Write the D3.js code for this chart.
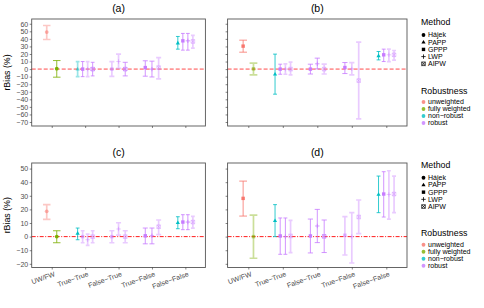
<!DOCTYPE html>
<html>
<head>
<meta charset="utf-8">
<script src="https://cdn.jsdelivr.net/npm/d3@7"></script>
<style>
  body { margin: 0; background: #fff; }
  svg { display: block; font-family: "Liberation Sans", Arial, sans-serif; }
</style>
</head>
<body>
<svg id="chart" width="484" height="308"></svg>
<script>
// categories
const groups = ["UW/FW", "True\u2212True", "False\u2212True", "True\u2212False", "False\u2212False"];
const methods = ["Hájek", "PAPP", "GPPP", "LWP", "AIPW"];
const robustness = ["unweighted", "fully weighted", "non\u2212robust", "robust"];
const robustColor = ["#F8766D", "#7CAE00", "#00BFC4", "#C77CFF"];

// one row per estimate, shared by all four panels
const itemGroup = [0, 0, 1, 1, 1, 1, 2, 2, 2, 3, 3, 3, 4, 4, 4, 4];
const itemRobust = [0, 1, 2, 3, 3, 3, 3, 3, 3, 3, 3, 3, 2, 3, 3, 3];
const itemMethodAC = [0, 0, 1, 2, 3, 4, 2, 3, 4, 2, 3, 4, 1, 2, 3, 4];
const itemMethodBD = [2, 2, 1, 2, 3, 4, 2, 3, 4, 2, 3, 4, 1, 2, 3, 4];

// panel (a)
const estA  = [49, 0.5, 0, 0, 0, 0, 0, 10, 0, 2, 0, 2, 34.4, 37.4, 37.4, 36.6];
const lowA  = [39.2, -10.7, -9.9, -10, -10, -9, -9.6, 1, -9, -9.4, -10.4, -13, 26.4, 25.1, 25.1, 27.7];
const highA = [57.7, 11.3, 10, 10, 10, 9, 10, 19.8, 9, 11, 10.5, 15.3, 43.2, 47.2, 47.2, 44.5];
const boldA = [0, 1, 0, 1, 0, 1, 0, 0, 1, 1, 1, 0, 1, 1, 1, 0];

// panel (b)
const estB  = [30.4, 0.3, -6.8, 0, 0, 0, 0, 7, 0, 2.1, 0.3, -15.2, 17.5, 18.9, 18.9, 18.9];
const lowB  = [22.4, -7.7, -33.2, -6.8, -6.8, -7.7, -6.5, 0.3, -6.5, -5.9, -7.7, -66, 12.2, 10, 10, 11.8];
const highB = [38.3, 7.8, 19.8, 6.5, 6.8, 9.2, 6.5, 14.5, 6.5, 8.7, 8.7, 35.7, 23.3, 26.4, 26.4, 24.6];
const boldB = [1, 0, 1, 1, 0, 0, 1, 1, 0, 1, 0, 0, 1, 1, 0, 0];

// panel (c)
const estC  = [18.6, 0, 2.4, 0, -2.3, 0, 0, 5.6, 0, 0.6, 0.6, 7.3, 10.2, 10.7, 10.7, 10.7];
const lowC  = [12.7, -4.5, -2.3, -4.5, -6.5, -4.5, -4.5, 1.1, -4.5, -5.3, -5.3, 1.4, 5.8, 5.1, 5.1, 6.3];
const highC = [23.5, 4.3, 6.3, 4.3, 1.9, 4.3, 4.3, 10.2, 4.3, 6.3, 6.3, 12.2, 14.6, 16.1, 16.1, 14.9];
const boldC = [0, 1, 1, 0, 0, 0, 0, 0, 0, 1, 1, 0, 1, 1, 1, 0];

// panel (d)
const estD  = [28.1, 0, 11.7, 0.5, 0, 0.5, 0.5, 7.8, 0.2, 1, 0, 14.4, 31, 31.3, 31, 31.3];
const lowD  = [15.1, -15.9, 0, -13, -13, -11.7, -12, -4.4, -11.7, -13.5, -19.4, 2.2, 17.6, 14.4, 12.9, 17.6];
const highD = [40.8, 15.8, 23.5, 13.7, 13.7, 12, 12.9, 20, 12.2, 14.7, 17.6, 26.9, 44.5, 47.7, 48.4, 44.5];
const boldD = [1, 0, 1, 1, 1, 0, 1, 1, 1, 0, 0, 0, 1, 1, 0, 0];

// y axis ticks per row
const ticksTop = d3.range(-70, 61, 10);
const ticksBottom = d3.range(-20, 51, 10);

const panels = [
  { title: "(a)", col: 0, row: 0, est: estA, low: lowA, high: highA, bold: boldA, method: itemMethodAC },
  { title: "(b)", col: 1, row: 0, est: estB, low: lowB, high: highB, bold: boldB, method: itemMethodBD },
  { title: "(c)", col: 0, row: 1, est: estC, low: lowC, high: highC, bold: boldC, method: itemMethodAC },
  { title: "(d)", col: 1, row: 1, est: estD, low: lowD, high: highD, bold: boldD, method: itemMethodBD }
];

const colX = [[31.7, 205.4], [227.6, 407]];
const rowY = [[19, 126], [163, 267.5]];
const rowDomain = [[-75.3, 66.3], [-22.7, 54.1]];
const rowTicks = [ticksTop, ticksBottom];

const svg = d3.select("#chart");
const minus = s => String(s).replace("-", "\u2212");

function drawShape(g, m, x, y, color, op) {
  if (m === 0) {
    g.append("circle").attr("cx", x).attr("cy", y).attr("r", 1.9).attr("fill", color).attr("opacity", op);
  } else if (m === 1) {
    g.append("path").attr("d", `M${x},${y - 2.3}L${x + 2.1},${y + 1.3}L${x - 2.1},${y + 1.3}Z`)
      .attr("fill", color).attr("opacity", op);
  } else if (m === 2) {
    g.append("rect").attr("x", x - 1.7).attr("y", y - 1.7).attr("width", 3.4).attr("height", 3.4)
      .attr("fill", color).attr("opacity", op);
  } else if (m === 3) {
    g.append("path").attr("d", `M${x - 2.2},${y}H${x + 2.2}M${x},${y - 2.2}V${y + 2.2}`)
      .attr("stroke", color).attr("stroke-width", 0.8).attr("fill", "none").attr("opacity", op);
  } else {
    g.append("path")
      .attr("d", `M${x - 1.8},${y - 1.8}h3.6v3.6h-3.6ZM${x - 1.8},${y - 1.8}L${x + 1.8},${y + 1.8}M${x + 1.8},${y - 1.8}L${x - 1.8},${y + 1.8}`)
      .attr("stroke", color).attr("stroke-width", 0.7).attr("fill", "none").attr("opacity", op);
  }
}

panels.forEach(p => {
  const [x0, x1] = colX[p.col];
  const [y0, y1] = rowY[p.row];
  const x = d3.scalePoint().domain(groups).range([x0, x1]).padding(0.6);
  const y = d3.scaleLinear().domain(rowDomain[p.row]).range([y1, y0]);
  const g = svg.append("g");

  g.append("rect").attr("x", x0).attr("y", y0).attr("width", x1 - x0).attr("height", y1 - y0)
    .attr("fill", "#fff");

  // zero line
  const zl = g.append("line").attr("x1", x0).attr("x2", x1).attr("y1", y(0)).attr("y2", y(0))
    .attr("stroke", "#FF0000");
  if (p.row === 0) zl.attr("stroke-width", 1.6).attr("opacity", 0.4).attr("stroke-dasharray", "4,2");
  else zl.attr("stroke-width", 0.9).attr("stroke-dasharray", "4,1.5,1,1.5");

  // dodge items within each group
  const step = x.step();
  const idx = d3.range(p.est.length);
  const counts = d3.rollup(idx, v => v.length, i => itemGroup[i]);
  const seen = new Map();
  idx.forEach(i => {
    const gi = itemGroup[i];
    const n = counts.get(gi);
    const j = seen.get(gi) || 0;
    seen.set(gi, j + 1);
    const slot = 0.6 * step / n;
    const cx = x(groups[gi]) + (j - (n - 1) / 2) * slot;
    const cap = slot * 0.75;
    const color = robustColor[itemRobust[i]];
    const op = p.bold[i] ? 0.9 : 0.4;
    const sw = p.bold[i] ? 0.9 : 1.7;
    const eb = g.append("path")
      .attr("d", `M${cx - cap / 2},${y(p.high[i])}H${cx + cap / 2}M${cx},${y(p.high[i])}V${y(p.low[i])}M${cx - cap / 2},${y(p.low[i])}H${cx + cap / 2}`)
      .attr("stroke", color).attr("stroke-width", sw).attr("fill", "none").attr("opacity", op);
    drawShape(g, p.method[i], cx, y(p.est[i]), color, p.bold[i] ? 1 : 0.55);
  });

  g.append("rect").attr("x", x0).attr("y", y0).attr("width", x1 - x0).attr("height", y1 - y0)
    .attr("fill", "none").attr("stroke", "#555").attr("stroke-width", 0.9);

  // y axis
  const ya = g.append("g").attr("transform", `translate(${x0},0)`)
    .call(d3.axisLeft(y).tickValues(rowTicks[p.row]).tickSize(2).tickPadding(1.5)
      .tickFormat(p.col === 0 ? minus : ""));
  ya.select(".domain").remove();
  ya.selectAll("line").attr("stroke", "#333").attr("stroke-width", 0.6);
  ya.selectAll("text").attr("fill", "#4D4D4D").attr("font-size", 7).attr("font-family", "Liberation Sans");

  // x axis
  const xa = g.append("g").attr("transform", `translate(0,${y1})`)
    .call(d3.axisBottom(x).tickSize(2).tickFormat(""));
  xa.select(".domain").remove();
  xa.selectAll("line").attr("stroke", "#333").attr("stroke-width", 0.6);
  if (p.row === 1) {
    groups.forEach(gn => {
      g.append("text")
        .attr("transform", `translate(${x(gn) + 2},${y1 + 3.5}) rotate(-20)`)
        .attr("text-anchor", "end").attr("dy", "0.75em")
        .attr("font-size", 7).attr("fill", "#4D4D4D").text(gn);
    });
  }

  // title
  g.append("text").attr("x", (x0 + x1) / 2).attr("y", y0 - 7).attr("text-anchor", "middle")
    .attr("font-size", 10.5).attr("fill", "#000").text(p.title);

  if (p.col === 0) {
    g.append("text").attr("transform", `translate(10,${(y0 + y1) / 2}) rotate(-90)`)
      .attr("text-anchor", "middle").attr("font-size", 8.8).attr("fill", "#000").text("rBias (%)");
  }
});

// legends, one per row
rowY.forEach(([y0, y1]) => {
  const cy = (y0 + y1) / 2;
  const lg = svg.append("g").attr("transform", `translate(421,${cy - 50.5})`);
  lg.append("text").attr("x", 0).attr("y", 3).attr("font-size", 8.8).text("Method");
  methods.forEach((m, k) => {
    const yy = 13 + k * 7.2;
    drawShape(lg, k, 2.5, yy, "#000", 1);
    lg.append("text").attr("x", 7).attr("y", yy + 2.4).attr("font-size", 7).text(m);
  });
  lg.append("text").attr("x", 0).attr("y", 71.5).attr("font-size", 8.8).text("Robustness");
  robustness.forEach((r, k) => {
    const yy = 80 + k * 7;
    lg.append("circle").attr("cx", 2.5).attr("cy", yy).attr("r", 1.9).attr("fill", robustColor[k]).attr("opacity", 0.8);
    lg.append("text").attr("x", 7).attr("y", yy + 2.4).attr("font-size", 7).text(r);
  });
});
</script>
</body>
</html>
